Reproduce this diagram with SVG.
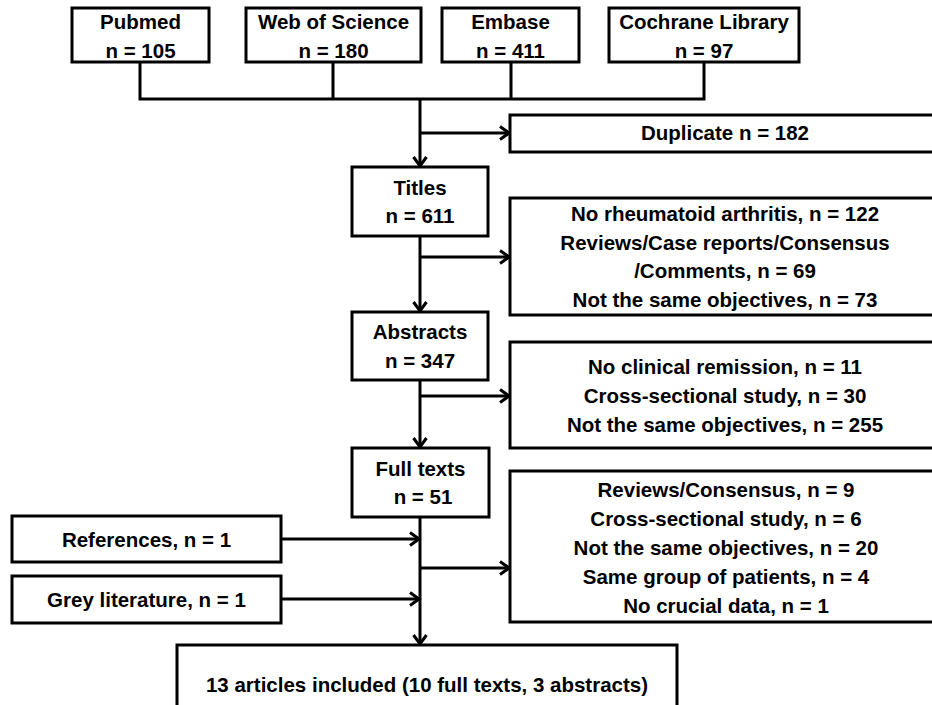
<svg xmlns="http://www.w3.org/2000/svg" width="932" height="705" viewBox="0 0 932 705">
<style>
  .box { fill: #fff; stroke: #000; stroke-width: 3; }
  .t { font-family: "Liberation Sans", Arial, sans-serif; font-weight: bold; font-size: 20.5px; fill: #000; text-anchor: middle; }
  .c { fill: none; stroke: #000; stroke-width: 3; }
  .a { fill: none; stroke: #000; stroke-width: 3; marker-end: url(#arr); }
</style>
<defs>
  <marker id="arr" markerUnits="userSpaceOnUse" markerWidth="16" markerHeight="16" refX="11" refY="8" orient="auto" viewBox="0 0 16 16" overflow="visible">
    <path d="M2,1.5 L11,8 L2,14.5" fill="none" stroke="#000" stroke-width="3"/>
  </marker>
</defs>
<rect width="932" height="705" fill="#fff"/>
<g id="connectors">
  <path class="c" d="M140,62 V99 M333,62 V99 M511,62 V99 M704,62 V99 M138.5,99 H705.5"/>
  <path class="a" d="M420,99 V166"/>
  <path class="a" d="M420,133 H509"/>
  <path class="a" d="M420,236 V311"/>
  <path class="a" d="M420,257 H509"/>
  <path class="a" d="M420,380 V447"/>
  <path class="a" d="M420,396 H509"/>
  <path class="a" d="M420,517 V644"/>
  <path class="a" d="M420,568 H509"/>
  <path class="a" d="M281,539 H419"/>
  <path class="a" d="M281,599 H419"/>
</g>
<g id="pubmed"><rect class="box" x="72" y="8" width="137" height="54"/><text class="t" x="140.5" y="29">Pubmed</text><text class="t" x="140.5" y="58">n = 105</text></g>
<g id="wos"><rect class="box" x="246" y="8" width="175" height="54"/><text class="t" x="333.5" y="29">Web of Science</text><text class="t" x="333.5" y="58">n = 180</text></g>
<g id="embase"><rect class="box" x="442" y="8" width="137" height="54"/><text class="t" x="510.5" y="29">Embase</text><text class="t" x="510.5" y="58">n = 411</text></g>
<g id="cochrane"><rect class="box" x="609" y="8" width="190" height="54"/><text class="t" x="704" y="29">Cochrane Library</text><text class="t" x="704" y="58">n = 97</text></g>
<g id="duplicate"><rect class="box" x="510" y="115" width="430" height="37"/><text class="t" x="725" y="139.5">Duplicate n = 182</text></g>
<g id="titles"><rect class="box" x="352" y="167" width="136" height="69"/><text class="t" x="420" y="195">Titles</text><text class="t" x="420" y="223">n = 611</text></g>
<g id="excl1"><rect class="box" x="510" y="198" width="430" height="117"/>
  <text class="t" x="725" y="221">No rheumatoid arthritis, n = 122</text>
  <text class="t" x="725" y="250">Reviews/Case reports/Consensus</text>
  <text class="t" x="725" y="278">/Comments, n = 69</text>
  <text class="t" x="725" y="307">Not the same objectives, n = 73</text></g>
<g id="abstracts"><rect class="box" x="352" y="312" width="136" height="68"/><text class="t" x="420" y="339">Abstracts</text><text class="t" x="420" y="368">n = 347</text></g>
<g id="excl2"><rect class="box" x="510" y="342" width="430" height="106"/>
  <text class="t" x="725" y="374">No clinical remission, n = 11</text>
  <text class="t" x="725" y="403">Cross-sectional study, n = 30</text>
  <text class="t" x="725" y="432">Not the same objectives, n = 255</text></g>
<g id="fulltexts"><rect class="box" x="352" y="448" width="137" height="69"/><text class="t" x="420.5" y="476">Full texts</text><text class="t" x="423" y="504">n = 51</text></g>
<g id="excl3"><rect class="box" x="510" y="471" width="430" height="151"/>
  <text class="t" x="726" y="497">Reviews/Consensus, n = 9</text>
  <text class="t" x="726" y="526">Cross-sectional study, n = 6</text>
  <text class="t" x="726" y="555">Not the same objectives, n = 20</text>
  <text class="t" x="726" y="584">Same group of patients, n = 4</text>
  <text class="t" x="726" y="613">No crucial data, n = 1</text></g>
<g id="references"><rect class="box" x="12" y="516" width="269" height="46"/><text class="t" x="146.5" y="547">References, n = 1</text></g>
<g id="grey"><rect class="box" x="12" y="576" width="269" height="47"/><text class="t" x="146.5" y="607">Grey literature, n = 1</text></g>
<g id="included"><rect class="box" x="177" y="645" width="500" height="75"/><text class="t" x="427" y="692">13 articles included (10 full texts, 3 abstracts)</text></g>
</svg>
